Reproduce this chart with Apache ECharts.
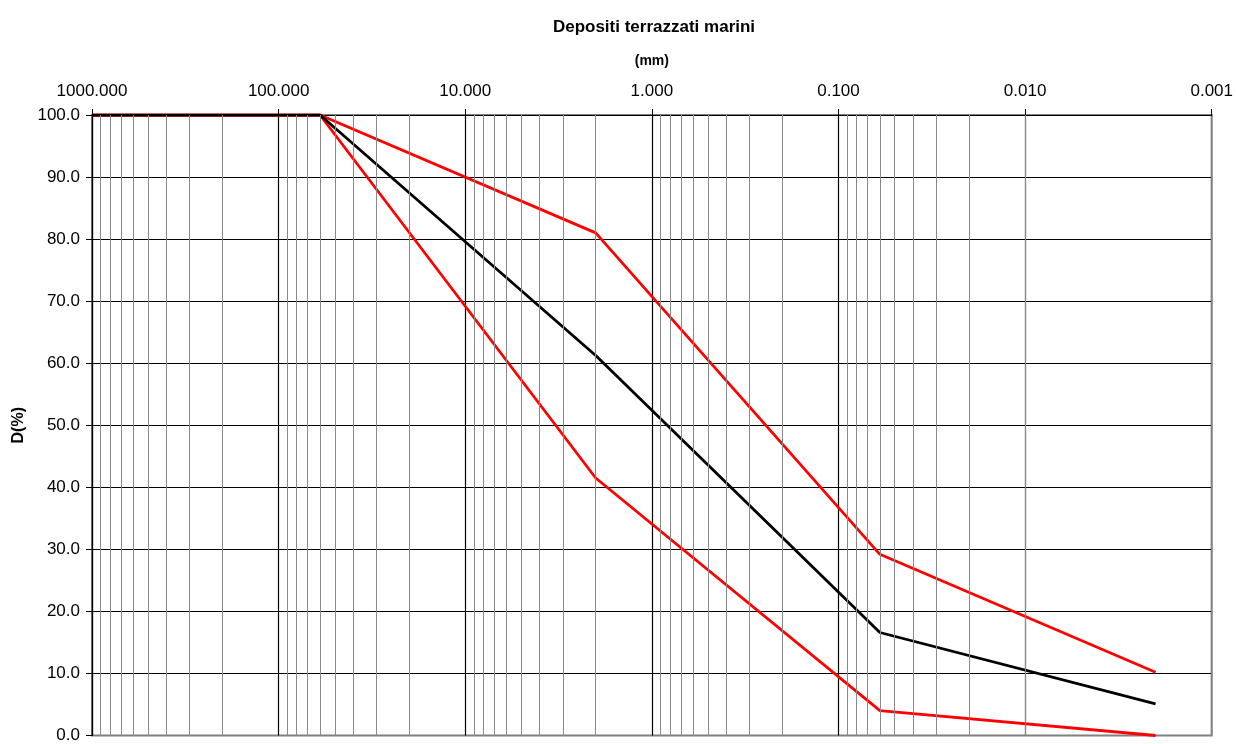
<!DOCTYPE html>
<html>
<head>
<meta charset="utf-8">
<title>Depositi terrazzati marini</title>
<script src="https://cdn.jsdelivr.net/npm/echarts@6/dist/echarts.min.js"></script>
<style>
  html, body { margin: 0; padding: 0; background: #ffffff; }
  #chart { width: 1236px; height: 744px; }
</style>
</head>
<body>
<div id="chart"></div>
<script>
// Grain sizes (mm) of the curve vertices
const diameters = [1000, 60, 2, 0.06, 0.002];
// Passing percentages: upper envelope, mean curve, lower envelope
const upperEnvelope = [100, 100, 81.0, 29.2, 10.2];
const meanCurve     = [100, 100, 61.25, 16.6, 5.1];
const lowerEnvelope = [100, 100, 41.5, 4.0, 0.0];

// Decades shown on the grain-size axis and the minor lines inside each decade
const decades = [0.001, 0.01, 0.1, 1, 10, 100];
const minorSteps = [2, 3, 4, 5, 6, 7, 8, 9];

const pairs = ys => diameters.map((d, i) => [d, ys[i]]);

const minorLines = [];
decades.forEach(d => minorSteps.forEach(k => {
  minorLines.push({ xAxis: +(d * k).toPrecision(6) });
}));

const chart = echarts.init(document.getElementById('chart'), null, { renderer: 'canvas' });

const FONT = '"Liberation Sans", Arial, sans-serif';

chart.setOption({
  animation: false,
  backgroundColor: '#ffffff',
  title: {
    text: 'Depositi terrazzati marini',
    left: 649,
    top: 14,
    textAlign: 'center',
    textStyle: { fontFamily: FONT, fontSize: 17, fontWeight: 'bold', color: '#000' }
  },
  grid: {
    left: 92, right: 22, top: 115, bottom: 7,
    show: true,
    borderColor: '#808080',
    borderWidth: 2,
    backgroundColor: '#ffffff'
  },
  xAxis: {
    type: 'log',
    logBase: 10,
    min: 0.001,
    max: 1000,
    inverse: true,
    position: 'top',
    name: '(mm)',
    nameLocation: 'middle',
    nameGap: 47,
    nameTextStyle: { fontFamily: FONT, fontSize: 14, fontWeight: 'bold', color: '#000' },
    axisLine: { show: true, onZero: false, lineStyle: { color: '#000', width: 1 } },
    axisTick: { show: true, inside: false, length: 6, lineStyle: { color: '#000' } },
    axisLabel: {
      fontFamily: FONT, fontSize: 17, color: '#000', margin: 15,
      formatter: v => Number(v).toFixed(3)
    },
    splitLine: {
      show: true,
      lineStyle: { color: ['#808080', '#000', '#000', '#000', '#000', '#000', '#000'], width: 1.2 }
    },
    minorTick: { show: false },
    minorSplitLine: { show: false }
  },
  yAxis: {
    type: 'value',
    min: 0,
    max: 100,
    interval: 10,
    name: 'D(%)',
    nameLocation: 'middle',
    nameGap: 64,
    nameRotate: 90,
    nameTextStyle: { fontFamily: FONT, fontSize: 16, fontWeight: 'bold', color: '#000' },
    axisLine: { show: true, onZero: false, lineStyle: { color: '#000', width: 1.2 } },
    axisTick: { show: true, inside: false, length: 6, lineStyle: { color: '#000' } },
    axisLabel: {
      fontFamily: FONT, fontSize: 17, color: '#000', margin: 12,
      formatter: v => Number(v).toFixed(1)
    },
    splitLine: {
      show: true,
      lineStyle: {
        color: ['#808080', '#000', '#000', '#000', '#000', '#000', '#000', '#000', '#000', '#000', '#000'],
        width: 1
      }
    }
  },
  series: [
    {
      // minor grain-size grid lines (2..9 within each decade)
      type: 'line',
      data: [],
      z: 1,
      silent: true,
      markLine: {
        silent: true,
        symbol: ['none', 'none'],
        label: { show: false },
        lineStyle: { color: '#8a8a8a', width: 1, type: 'solid' },
        emphasis: { disabled: true },
        data: minorLines
      }
    },
    {
      name: 'Limite inferiore',
      type: 'line',
      z: 3,
      data: pairs(lowerEnvelope),
      showSymbol: false,
      symbol: 'none',
      lineStyle: { color: '#ff0000', width: 2.8 },
      itemStyle: { color: '#ff0000' }
    },
    {
      name: 'Limite superiore',
      type: 'line',
      z: 3,
      data: pairs(upperEnvelope),
      showSymbol: false,
      symbol: 'none',
      lineStyle: { color: '#ff0000', width: 2.8 },
      itemStyle: { color: '#ff0000' }
    },
    {
      name: 'Curva media',
      type: 'line',
      z: 4,
      data: pairs(meanCurve),
      showSymbol: false,
      symbol: 'none',
      lineStyle: { color: '#000000', width: 2.8 },
      itemStyle: { color: '#000000' }
    }
  ]
});
</script>
</body>
</html>
